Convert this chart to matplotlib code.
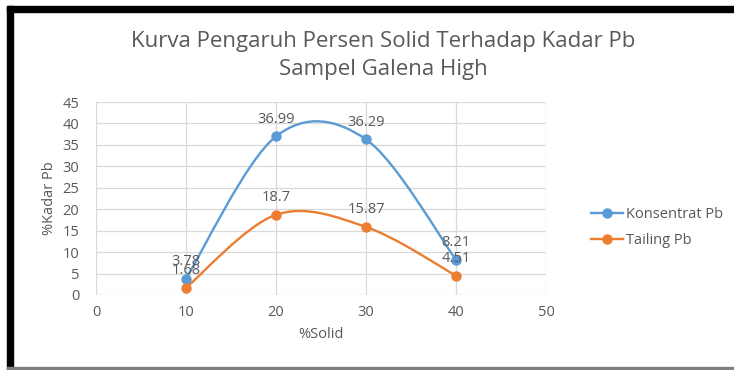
import matplotlib
matplotlib.use('Agg')
import matplotlib.pyplot as plt
from matplotlib.path import Path
from matplotlib.patches import PathPatch, Rectangle

plt.rcParams['font.family'] = ['Open Sans', 'DejaVu Sans']

solid = [10, 20, 30, 40]
konsentrat = [3.78, 36.99, 36.29, 8.21]
tailing = [1.68, 18.7, 15.87, 4.51]
labels_k = ['3.78', '36.99', '36.29', '8.21']
labels_t = ['1.68', '18.7', '15.87', '4.51']

BLUE = '#5b9bd5'
ORANGE = '#ed7d31'
GREY = '#595959'


def smooth_path(xs, ys):
    # bezier curve through the points, like a smoothed spreadsheet line
    pts = list(zip(xs, ys))
    verts = [pts[0]]
    codes = [Path.MOVETO]
    n = len(pts)
    for i in range(n - 1):
        p0 = pts[i - 1] if i > 0 else pts[i]
        p1 = pts[i]
        p2 = pts[i + 1]
        p3 = pts[i + 2] if i + 2 < n else pts[i + 1]
        c1 = (p1[0] + (p2[0] - p0[0]) / 6, p1[1] + (p2[1] - p0[1]) / 6)
        c2 = (p2[0] - (p3[0] - p1[0]) / 6, p2[1] - (p3[1] - p1[1]) / 6)
        verts += [c1, c2, p2]
        codes += [Path.CURVE4] * 3
    return Path(verts, codes)


fig = plt.figure(figsize=(7.34, 3.70), dpi=100)
ax = fig.add_axes([96 / 734, 1 - 295 / 370, 450 / 734, 193 / 370])

for ys, labs, col, name in [(konsentrat, labels_k, BLUE, 'Konsentrat Pb'),
                            (tailing, labels_t, ORANGE, 'Tailing Pb')]:
    ax.add_patch(PathPatch(smooth_path(solid, ys), fill=False, edgecolor=col,
                           lw=1.7, zorder=3))
    ax.plot(solid, ys, linestyle='none', marker='o', markersize=6.5, color=col,
            zorder=4)
    ax.plot([], [], color=col, lw=1.7, marker='o', markersize=6.5, label=name)
    for x, y, t in zip(solid, ys, labs):
        ax.annotate(t, (x, y), xytext=(0, 7), textcoords='offset points',
                    ha='center', va='bottom', fontsize=10.5, color=GREY, zorder=5)

ax.set_xlim(0, 50)
ax.set_ylim(0, 45)
ax.set_xticks(range(0, 51, 10))
ax.set_yticks(range(0, 46, 5))
ax.grid(True, color='#d9d9d9', lw=0.9)
ax.set_axisbelow(True)
for s in ax.spines.values():
    s.set_visible(False)
ax.tick_params(length=0, colors=GREY, labelsize=10.5)
ax.tick_params(axis='x', pad=7)
ax.tick_params(axis='y', pad=12)
ax.set_xlabel('%Solid', fontsize=10.5, color=GREY, labelpad=5)
ax.set_ylabel('%Kadar Pb', fontsize=10.5, color=GREY, labelpad=4)

ax.legend(loc='center left', bbox_to_anchor=(1.07, 0.35), frameon=False,
          fontsize=10.5, labelcolor=GREY, handlelength=2.2, labelspacing=0.8,
          handletextpad=0.2)

fig.text(383 / 734, 1 - 42 / 370, 'Kurva Pengaruh Persen Solid Terhadap Kadar Pb',
         ha='center', va='center', fontsize=16, color=GREY)
fig.text(383 / 734, 1 - 70 / 370, 'Sampel Galena High',
         ha='center', va='center', fontsize=16, color=GREY)

# frame around the chart
fig.patches.append(Rectangle((7 / 734, 1 - 12 / 370), 1, 6 / 370,
                             transform=fig.transFigure, color='black'))
fig.patches.append(Rectangle((7 / 734, 0), 6 / 734, 1 - 6 / 370,
                             transform=fig.transFigure, color='black'))
fig.patches.append(Rectangle((7 / 734, 1.5 / 370), 1, 1.5 / 370,
                             transform=fig.transFigure, color='#808080'))

fig.savefig('out.png', dpi=100)
